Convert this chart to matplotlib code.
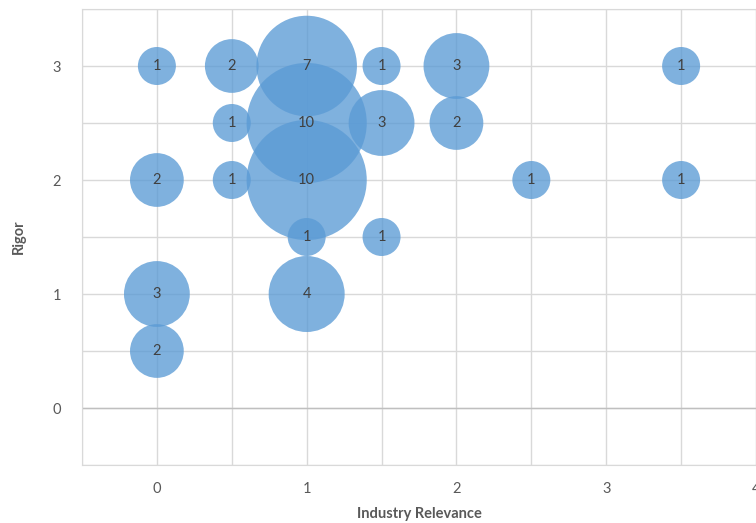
import numpy as np
import matplotlib
matplotlib.use("Agg")
import matplotlib.pyplot as plt
from matplotlib.ticker import MultipleLocator

plt.rcParams['font.family'] = ['Lato', 'DejaVu Sans']

# bubble data: industry relevance, rigor, number of studies
relevance = [0, 0.5, 1, 1.5, 2, 3.5,
             0.5, 1, 1.5, 2,
             0, 0.5, 1, 2.5, 3.5,
             1, 1.5,
             0, 1,
             0]
rigor = [3, 3, 3, 3, 3, 3,
         2.5, 2.5, 2.5, 2.5,
         2, 2, 2, 2, 2,
         1.5, 1.5,
         1, 1,
         0.5]
counts = [1, 2, 7, 1, 3, 1,
          1, 10, 3, 2,
          2, 1, 10, 1, 1,
          1, 1,
          3, 4,
          2]

fig = plt.figure(figsize=(7.56, 5.23), dpi=100)
ax = fig.add_axes([82/756, 58/523, 674/756, 456/523])

# area proportional to count, 1 -> ~38 px across
d1 = 38 * 72 / 100.0
sizes = [d1 ** 2 * c for c in counts]
ax.scatter(relevance, rigor, s=sizes, color='#5B9BD5', alpha=0.78,
           linewidths=0, zorder=3)

for xv, yv, c in zip(relevance, rigor, counts):
    ax.text(xv, yv, str(c), ha='center', va='center', fontsize=10.5,
            color='#404040', zorder=4)

ax.set_xlim(-0.5, 4)
ax.set_ylim(-0.5, 3.5)
ax.xaxis.set_major_locator(MultipleLocator(1))
ax.yaxis.set_major_locator(MultipleLocator(1))
ax.xaxis.set_minor_locator(MultipleLocator(0.5))
ax.yaxis.set_minor_locator(MultipleLocator(0.5))
ax.grid(True, which='both', color='#D9D9D9', linewidth=1, zorder=0)
ax.set_axisbelow(True)
ax.tick_params(which='both', length=0, labelsize=10.5, labelcolor='#595959')
ax.tick_params(axis='x', pad=12)
ax.tick_params(axis='y', pad=15)
for s in ax.spines.values():
    s.set_color('#D9D9D9')
ax.axhline(0, color='#BFBFBF', linewidth=1, zorder=1)

ax.set_xlabel('Industry Relevance', fontsize=10.5, fontweight='bold',
              color='#595959', labelpad=8)
ax.set_ylabel('Rigor', fontsize=10.5, fontweight='bold', color='#595959',
              labelpad=19)

fig.savefig('out.png', dpi=100)
